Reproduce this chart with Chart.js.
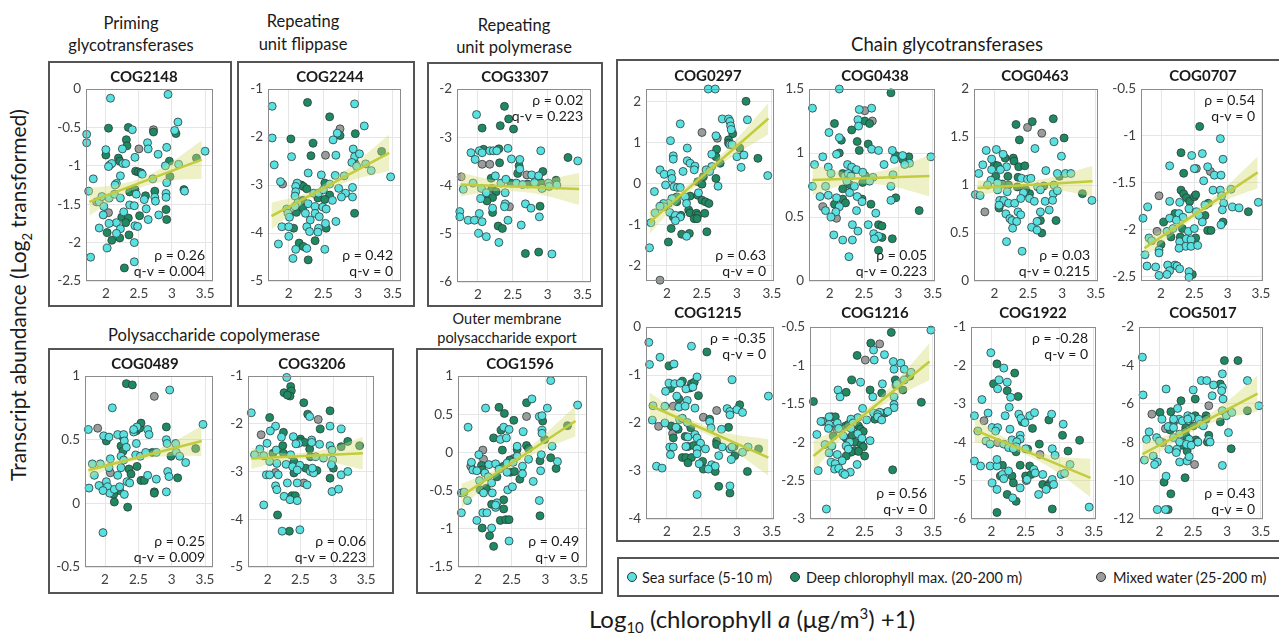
<!DOCTYPE html>
<html>
<head>
<meta charset="utf-8">
<script src="https://cdn.jsdelivr.net/npm/chart.js@4.4.1/dist/chart.umd.min.js"></script>
<style>
body { margin:0; background:#fff; }
#fig { position:relative; width:1279px; height:636px; overflow:hidden; font-family:Lato, 'Noto Sans', 'DejaVu Sans', sans-serif; color:#1a1a1a; }
.box { position:absolute; border:2px solid #555; box-sizing:border-box; }
.lbl { position:absolute; transform:translate(-50%,-50%); white-space:nowrap; font-size:16.5px; }
.cog { position:absolute; transform:translate(-50%,-50%); white-space:nowrap; font-size:15px; font-weight:bold; }
.dot { position:absolute; width:10px; height:10px; border-radius:50%; border:1px solid #333; box-sizing:border-box; transform:translate(-50%,-50%); }
.leg { position:absolute; transform:translateY(-50%); white-space:nowrap; font-size:14.5px; }
canvas { position:absolute; }
</style>
</head>
<body>
<div id="fig">
  <div class="box" style="left:48px;top:61px;width:184px;height:246px"></div>
  <div class="box" style="left:237px;top:61px;width:178px;height:246px"></div>
  <div class="box" style="left:427px;top:62px;width:176px;height:245px"></div>
  <div class="box" style="left:616px;top:59px;width:680px;height:483px"></div>
  <div class="box" style="left:48px;top:348px;width:346px;height:246px"></div>
  <div class="box" style="left:416px;top:348px;width:187px;height:246px"></div>
  <div class="box" style="left:617px;top:557px;width:680px;height:40px"></div>

  <div class="lbl" style="left:131px;top:23px">Priming</div>
  <div class="lbl" style="left:131px;top:45px">glycotransferases</div>
  <div class="lbl" style="left:303px;top:21px">Repeating</div>
  <div class="lbl" style="left:303px;top:44px">unit flippase</div>
  <div class="lbl" style="left:514px;top:25px">Repeating</div>
  <div class="lbl" style="left:514px;top:47px">unit polymerase</div>
  <div class="lbl" style="left:947px;top:44px;font-size:18.5px">Chain glycotransferases</div>
  <div class="lbl" style="left:214px;top:335px">Polysaccharide copolymerase</div>
  <div class="lbl" style="left:507px;top:318px;font-size:14.5px">Outer membrane</div>
  <div class="lbl" style="left:507px;top:337px;font-size:14.5px">polysaccharide export</div>

  <div class="lbl" style="left:20px;top:295px;font-size:21px;transform:translate(-50%,-50%) rotate(-90deg)">Transcript abundance (Log<sub style="font-size:13px">2</sub> transformed)</div>
  <div class="lbl" style="left:752px;top:620px;font-size:24px">Log<sub style="font-size:15px">10</sub> (chlorophyll <i>a</i> (μg/m<sup style="font-size:15px">3</sup>) +1)</div>

  <div class="dot" style="left:632px;top:577px;background:#58e1e0"></div>
  <div class="leg" style="left:642px;top:577px">Sea surface (5-10 m)</div>
  <div class="dot" style="left:795px;top:577px;background:#1f8a62"></div>
  <div class="leg" style="left:806px;top:577px">Deep chlorophyll max. (20-200 m)</div>
  <div class="dot" style="left:1101px;top:577px;background:#9c9c9c"></div>
  <div class="leg" style="left:1113px;top:577px">Mixed water (25-200 m)</div>
</div>

<script>
// shared x positions
var xTicks = [2, 2.5, 3, 3.5];
var fitX = [1.75, 3.45];
var bandX = [1.75, 2.2, 2.5, 2.9, 3.45];

// COG2148
var cog2148Sea = [[1.71,-0.59],[1.71,-0.70],[2.07,-0.12],[2.94,-0.07],[3.09,-0.43],[3.04,-0.54],[2.40,-0.53],[2.0,-0.79],[2.25,-0.78],[2.63,-0.70],[2.64,-0.78],[2.79,-0.85],[2.92,-0.76],[2.44,-0.89],[2.06,-0.99],[2.09,-0.97],[2.04,-1.01],[2.26,-0.97],[2.30,-0.97],[2.90,-1.0],[3.10,-0.98],[3.50,-0.81],[2.55,-1.11],[2.22,-1.13],[2.71,-1.17],[2.92,-1.22],[2.16,-1.23],[2.14,-1.25],[1.81,-1.17],[1.74,-1.33],[1.90,-1.47],[1.94,-1.40],[2.05,-1.42],[1.97,-1.53],[1.96,-1.64],[2.13,-1.37],[2.22,-1.42],[2.36,-1.51],[2.43,-1.52],[2.46,-1.37],[2.58,-1.44],[2.74,-1.41],[2.75,-1.46],[2.91,-1.36],[2.91,-1.41],[3.19,-1.33],[2.61,-1.56],[2.64,-1.70],[2.80,-1.64],[2.27,-1.60],[2.44,-1.78],[2.48,-1.79],[2.16,-1.74],[2.05,-1.75],[1.90,-1.81],[2.22,-1.82],[2.16,-1.88],[2.43,-2.0],[2.02,-2.07],[1.77,-2.19],[2.43,-2.25]];
var cog2148Deep = [[2.34,-0.50],[2.04,-0.51],[3.06,-0.58],[2.72,-0.56],[2.0,-0.86],[2.31,-0.66],[2.32,-0.74],[2.19,-0.90],[2.21,-0.94],[2.96,-0.94],[3.37,-0.90],[2.45,-1.07],[2.49,-1.08],[2.53,-1.09],[2.97,-1.14],[2.36,-1.34],[2.44,-1.31],[2.74,-1.33],[2.60,-1.39],[3.18,-1.31],[2.91,-1.57],[2.92,-1.70],[2.51,-1.65],[2.24,-1.67],[2.34,-1.68],[2.30,-1.74],[2.02,-1.87],[2.09,-1.97],[2.21,-1.94],[2.35,-1.90],[2.28,-2.33]];
var cog2148Mixed = [[2.72,-0.53],[2.50,-0.78],[1.86,-1.47],[2.04,-1.61]];
var cog2148Fit = [-1.47, -0.92];
var cog2148Hi = [-1.29, -1.24, -1.17, -1.00, -0.67];
var cog2148Lo = [-1.65, -1.40, -1.29, -1.20, -1.17];

// COG2244
var cog2244Sea = [[1.76,-1.36],[2.95,-1.31],[2.70,-1.92],[2.64,-2.06],[3.09,-1.77],[1.76,-2.02],[2.04,-2.41],[2.68,-2.38],[2.93,-2.25],[2.95,-2.41],[3.02,-2.35],[2.91,-2.53],[2.98,-2.61],[3.11,-2.56],[3.19,-2.70],[1.79,-2.58],[2.28,-2.75],[2.47,-2.79],[2.67,-2.80],[2.80,-2.81],[2.59,-2.98],[1.88,-2.93],[2.12,-2.96],[2.10,-3.03],[2.10,-3.14],[2.09,-3.23],[2.36,-3.17],[2.43,-3.17],[2.50,-3.10],[2.72,-3.07],[2.92,-3.05],[2.82,-3.17],[2.76,-3.25],[2.92,-3.25],[2.63,-3.32],[2.13,-3.37],[2.28,-3.39],[2.38,-3.45],[2.49,-3.46],[2.54,-3.50],[2.09,-3.45],[2.24,-3.59],[2.38,-3.59],[1.97,-3.50],[1.99,-3.59],[2.01,-3.67],[2.31,-3.73],[2.44,-3.66],[2.68,-3.76],[2.53,-3.80],[1.90,-3.87],[2.0,-3.87],[2.26,-3.87],[2.43,-3.90],[2.30,-3.97],[2.42,-3.98],[2.0,-4.07],[1.85,-4.23],[2.26,-4.32],[2.10,-4.34],[2.06,-4.53],[2.52,-4.34],[3.47,-2.83]];
var cog2244Deep = [[2.27,-1.28],[2.59,-1.58],[2.74,-1.97],[2.96,-1.93],[2.03,-2.04],[2.35,-2.13],[2.32,-2.39],[2.96,-2.56],[3.34,-2.30],[2.52,-2.96],[2.18,-3.0],[2.21,-3.03],[2.26,-3.08],[2.59,-3.21],[2.42,-3.27],[2.52,-3.30],[2.20,-3.32],[2.20,-3.48],[2.11,-3.57],[2.95,-3.59],[2.07,-3.90],[2.54,-3.90],[2.15,-4.21],[2.21,-4.28],[2.38,-4.16],[2.28,-4.56]];
var cog2244Mixed = [[2.74,-1.83],[2.53,-2.38],[1.91,-2.98]];
var cog2244Fit = [-3.65, -2.33];
var cog2244Hi = [-3.37, -3.20, -2.99, -2.61, -1.95];
var cog2244Lo = [-3.93, -3.40, -3.15, -2.91, -2.71];

// COG3307
var cog3307Sea = [[1.98,-2.53],[1.90,-3.32],[2.02,-3.28],[2.06,-3.32],[2.17,-3.28],[2.22,-3.28],[2.27,-3.28],[2.43,-3.23],[1.96,-3.46],[2.48,-3.45],[2.60,-3.46],[2.90,-3.28],[3.43,-3.49],[2.60,-3.66],[2.77,-3.78],[2.87,-3.80],[2.25,-3.80],[1.93,-3.95],[1.79,-4.08],[2.33,-3.95],[2.40,-3.87],[2.55,-3.95],[2.64,-3.98],[2.81,-3.94],[3.01,-3.95],[3.13,-3.99],[3.02,-4.02],[2.92,-4.06],[2.05,-4.06],[2.12,-4.15],[2.39,-4.15],[2.04,-4.27],[2.39,-4.38],[2.38,-4.44],[2.68,-4.38],[2.76,-4.47],[2.21,-4.47],[2.02,-4.58],[1.74,-4.54],[1.74,-4.65],[1.86,-4.72],[1.95,-4.72],[2.06,-4.75],[2.43,-4.72],[2.62,-4.82],[2.88,-4.65],[2.01,-4.99],[2.12,-5.06],[2.30,-5.18],[3.06,-5.42]];
var cog3307Deep = [[2.38,-2.36],[2.44,-2.62],[2.32,-2.76],[2.51,-2.83],[2.06,-2.81],[2.08,-3.25],[2.30,-3.24],[2.31,-3.53],[3.29,-3.42],[2.59,-3.59],[2.57,-3.75],[2.93,-3.71],[2.19,-3.85],[2.47,-3.95],[2.71,-3.97],[2.90,-3.94],[3.12,-3.89],[2.20,-4.06],[2.26,-4.13],[2.12,-4.29],[2.21,-4.25],[2.13,-4.32],[2.89,-4.43],[2.21,-4.56],[2.29,-4.84],[2.35,-4.89],[2.68,-5.41],[2.87,-5.38]];
var cog3307Mixed = [[2.06,-3.56],[2.17,-3.56],[2.70,-3.78],[1.76,-3.82],[2.45,-4.44]];
var cog3307Fit = [-3.98, -4.07];
var cog3307Hi = [-3.73, -3.88, -3.92, -3.89, -3.74];
var cog3307Lo = [-4.23, -4.12, -4.12, -4.19, -4.40];

// COG0489
var cog0489Sea = [[2.97,0.89],[2.11,0.75],[1.75,0.58],[1.98,0.53],[2.06,0.52],[2.19,0.54],[2.28,0.54],[2.43,0.56],[2.48,0.60],[2.43,0.58],[2.64,0.58],[2.66,0.54],[3.47,0.62],[2.29,0.49],[2.32,0.44],[2.47,0.47],[2.92,0.50],[2.93,0.47],[3.06,0.47],[1.81,0.31],[1.93,0.31],[2.08,0.35],[2.24,0.37],[2.28,0.34],[2.46,0.38],[2.53,0.37],[2.61,0.40],[2.77,0.40],[3.07,0.40],[3.12,0.37],[3.21,0.32],[1.84,0.22],[2.06,0.28],[2.19,0.22],[2.24,0.28],[2.64,0.22],[2.77,0.19],[2.94,0.25],[2.96,0.21],[1.76,0.12],[1.91,0.14],[2.02,0.17],[2.04,0.13],[2.07,0.08],[2.14,0.11],[2.22,0.13],[2.33,0.17],[2.37,0.16],[2.29,0.07],[1.97,0.10],[2.92,0.09],[1.97,-0.23]];
var cog0489Deep = [[2.32,0.94],[2.41,0.93],[2.02,0.49],[2.27,0.52],[2.47,0.57],[2.52,0.59],[2.54,0.63],[2.92,0.60],[2.24,0.45],[2.27,0.41],[2.71,0.40],[2.99,0.37],[3.36,0.43],[2.36,0.27],[2.39,0.23],[2.48,0.29],[2.54,0.18],[2.59,0.18],[3.09,0.20],[2.22,0.10],[2.13,0.07],[2.74,0.09],[2.74,0.08],[2.14,0.01],[2.34,-0.03]];
var cog0489Mixed = [[2.74,0.84],[1.89,0.59],[2.08,0.24]];
var cog0489Fit = [0.26, 0.49];
var cog0489Hi = [0.32, 0.345, 0.38, 0.45, 0.61];
var cog0489Lo = [0.20, 0.295, 0.34, 0.37, 0.37];

// COG3206
var cog3206Sea = [[2.29,-1.03],[1.75,-1.77],[2.64,-1.85],[2.12,-2.05],[2.95,-2.05],[3.12,-2.11],[2.04,-2.15],[2.39,-2.27],[2.21,-2.28],[2.47,-2.41],[2.67,-2.34],[2.67,-2.39],[2.79,-2.43],[2.95,-2.46],[1.99,-2.41],[2.43,-2.42],[2.98,-2.55],[1.88,-2.53],[1.80,-2.65],[1.94,-2.67],[2.13,-2.55],[2.35,-2.65],[2.73,-2.69],[2.85,-2.72],[2.99,-2.76],[2.03,-2.79],[2.14,-2.83],[2.28,-2.85],[2.38,-2.90],[2.49,-2.87],[2.97,-2.86],[1.98,-3.07],[2.03,-3.07],[2.16,-3.07],[2.45,-2.97],[2.65,-3.0],[2.70,-3.03],[2.68,-2.93],[3.12,-3.07],[3.22,-3.0],[2.30,-3.24],[2.45,-3.24],[2.60,-3.28],[2.12,-3.30],[2.14,-3.38],[2.98,-3.42],[3.08,-3.37],[2.25,-3.52],[2.34,-3.59],[2.45,-3.61],[1.94,-3.70],[2.22,-4.25],[2.49,-4.22]];
var cog3206Deep = [[2.35,-1.22],[2.36,-1.31],[2.34,-1.42],[2.25,-1.35],[2.30,-1.40],[2.55,-1.56],[2.95,-1.73],[2.61,-1.80],[2.03,-1.87],[2.80,-2.11],[2.24,-2.18],[2.50,-2.32],[2.50,-2.37],[2.56,-2.39],[2.23,-2.46],[2.64,-2.53],[2.08,-2.62],[2.24,-2.62],[2.65,-2.69],[3.12,-2.48],[3.22,-2.37],[3.40,-2.46],[2.40,-2.79],[2.58,-2.93],[3.0,-2.93],[2.40,-3.03],[2.75,-2.98],[2.95,-3.14],[2.37,-3.51],[2.42,-3.51],[2.15,-3.91],[2.33,-4.25]];
var cog3206Mixed = [[2.77,-1.91],[1.90,-2.23],[2.12,-3.02],[2.55,-3.24]];
var cog3206Fit = [-2.73, -2.62];
var cog3206Hi = [-2.51, -2.61, -2.61, -2.53, -2.28];
var cog3206Lo = [-2.95, -2.79, -2.75, -2.79, -2.96];

// COG1596
var cog1596Sea = [[3.08,0.94],[2.80,0.70],[2.11,0.58],[3.03,0.58],[3.48,0.62],[2.91,0.47],[2.95,0.48],[1.85,0.33],[2.38,0.33],[2.46,0.30],[2.33,0.17],[2.42,0.19],[2.67,0.27],[2.95,0.29],[2.95,0.25],[3.10,0.08],[2.58,0.08],[2.01,-0.03],[2.58,-0.05],[2.75,-0.09],[2.94,-0.03],[3.18,-0.12],[1.90,-0.13],[1.92,-0.23],[1.98,-0.24],[2.16,-0.16],[2.26,-0.15],[2.31,-0.22],[2.43,-0.14],[2.52,-0.13],[2.43,-0.26],[2.66,-0.18],[2.10,-0.27],[2.15,-0.32],[2.66,-0.28],[2.82,-0.38],[2.93,-0.24],[2.02,-0.37],[2.20,-0.40],[2.08,-0.53],[2.21,-0.53],[2.44,-0.49],[2.51,-0.45],[1.75,-0.53],[1.79,-0.52],[1.84,-0.63],[2.28,-0.66],[2.26,-0.72],[2.26,-0.69],[2.91,-0.63],[1.75,-0.79],[2.07,-0.79],[2.13,-0.79],[1.98,-0.89],[2.20,-0.99],[2.46,-1.16]];
var cog1596Deep = [[2.72,0.65],[2.31,0.59],[2.39,0.51],[2.96,0.41],[2.53,0.42],[2.34,0.29],[2.23,0.19],[2.99,0.17],[3.33,0.35],[2.58,0.04],[2.72,0.09],[2.75,0.05],[2.36,0.03],[3.08,-0.07],[2.92,-0.11],[2.05,-0.17],[2.06,-0.23],[2.38,-0.18],[2.47,-0.10],[2.48,-0.26],[2.54,-0.25],[3.16,-0.21],[2.28,-0.32],[2.62,-0.35],[2.12,-0.47],[2.03,-0.49],[2.20,-0.68],[2.38,-0.62],[2.38,-0.74],[2.33,-0.89],[2.41,-0.88],[2.92,-0.83],[2.06,-0.99],[2.17,-1.09],[2.46,-0.88],[2.23,-1.23]];
var cog1596Mixed = [[2.72,0.47],[2.07,0.03],[2.08,-0.09],[2.53,-0.08],[1.89,-0.18]];
var cog1596Fit = [-0.57, 0.41];
var cog1596Hi = [-0.41, -0.25, -0.09, 0.17, 0.61];
var cog1596Lo = [-0.73, -0.37, -0.19, 0.01, 0.21];

// COG0297
var cog0297Sea = [[2.59,2.30],[2.69,2.30],[2.19,1.45],[2.79,1.57],[2.88,1.57],[2.90,1.51],[2.91,1.40],[2.92,1.31],[3.15,1.55],[2.70,1.16],[2.90,0.94],[2.05,1.04],[2.29,0.86],[2.09,0.67],[2.09,0.59],[2.64,0.71],[2.29,0.55],[2.33,0.49],[2.40,0.42],[2.23,0.29],[2.39,0.33],[1.90,0.33],[1.96,0.22],[2.06,0.24],[2.07,0.12],[2.64,0.41],[2.56,0.33],[2.61,0.29],[2.93,0.94],[3.0,0.65],[3.10,0.69],[3.06,0.39],[3.44,0.19],[2.45,-0.23],[1.82,-0.20],[1.98,-0.04],[2.10,-0.08],[2.15,-0.10],[2.19,-0.10],[2.73,-0.07],[2.26,-0.33],[2.07,-0.37],[2.02,-0.49],[1.95,-0.49],[1.96,-0.57],[2.28,-0.49],[1.90,-0.56],[1.83,-0.72],[1.77,-0.96],[2.04,-0.71],[2.12,-0.78],[2.19,-0.82],[2.12,-0.91],[2.28,-1.29],[1.75,-1.57]];
var cog0297Deep = [[3.13,2.0],[2.94,1.21],[2.88,1.06],[3.04,0.86],[2.88,0.98],[2.71,0.83],[2.70,0.65],[2.76,0.49],[2.52,0.16],[3.30,0.61],[2.70,0.12],[2.44,0.04],[2.50,-0.02],[2.14,-0.33],[2.33,-0.31],[2.14,-0.45],[2.44,-0.29],[2.50,-0.41],[2.55,-0.45],[2.60,-0.49],[2.31,-0.65],[2.33,-0.72],[2.42,-0.73],[2.44,-0.78],[2.39,-0.86],[2.20,-0.78],[2.09,-0.82],[2.54,-0.73],[2.43,-0.86],[2.06,-1.10],[2.21,-1.24],[2.32,-1.22],[2.57,-1.18],[2.02,-1.43]];
var cog0297Mixed = [[2.50,1.24],[2.72,1.10],[1.90,-2.36]];
var cog0297Fit = [-0.95, 1.58];
var cog0297Hi = [-0.67, -0.16, 0.26, 0.91, 1.96];
var cog0297Lo = [-1.23, -0.40, 0.06, 0.61, 1.20];

// COG0438
var cog0438Sea = [[2.14,1.50],[1.75,1.35],[2.43,1.34],[2.61,1.35],[2.41,1.26],[2.42,1.21],[1.99,1.16],[2.14,1.12],[2.61,1.03],[2.71,1.02],[2.91,1.02],[2.10,0.99],[1.90,0.97],[3.06,0.98],[2.94,0.95],[3.47,0.97],[3.16,0.92],[3.09,0.91],[2.79,0.91],[1.78,0.91],[1.98,0.89],[2.26,0.91],[2.32,0.89],[2.39,0.87],[2.48,0.85],[2.92,0.83],[2.02,0.84],[2.22,0.82],[2.27,0.84],[2.31,0.82],[2.63,0.81],[1.75,0.74],[1.94,0.74],[2.25,0.78],[2.36,0.74],[2.58,0.78],[2.89,0.74],[2.29,0.69],[1.86,0.66],[1.98,0.67],[2.10,0.65],[2.40,0.66],[2.47,0.62],[2.89,0.63],[2.14,0.58],[2.09,0.54],[1.94,0.55],[2.39,0.55],[2.02,0.50],[2.67,0.53],[2.33,0.44],[2.56,0.44],[2.41,0.39],[2.06,0.36],[2.64,0.37],[2.71,0.35],[2.65,0.33],[2.19,0.32],[2.33,0.32],[2.28,0.19]];
var cog0438Deep = [[2.89,1.47],[2.51,1.25],[2.58,1.23],[2.07,1.23],[2.32,1.18],[2.17,1.10],[2.40,1.09],[2.56,1.07],[2.43,1.02],[2.14,1.0],[2.96,0.98],[3.15,0.97],[3.06,0.95],[2.35,0.87],[2.19,0.84],[2.52,0.82],[2.30,0.75],[2.48,0.77],[2.19,0.72],[2.19,0.64],[2.47,0.64],[2.23,0.61],[2.60,0.60],[2.96,0.65],[2.07,0.60],[3.30,0.55],[2.71,0.44],[2.76,0.43],[2.76,0.34],[2.91,0.33],[2.71,0.24]];
var cog0438Mixed = [[2.51,1.33],[2.62,1.25],[1.90,0.58],[2.10,0.49]];
var cog0438Fit = [0.79, 0.82];
var cog0438Hi = [0.91, 0.85, 0.84, 0.88, 0.98];
var cog0438Lo = [0.67, 0.75, 0.76, 0.74, 0.66];

// COG0463
var cog0463Sea = [[2.88,1.45],[2.60,1.38],[2.99,1.30],[1.88,1.36],[2.03,1.37],[2.13,1.32],[1.96,1.27],[1.83,1.21],[2.18,1.19],[2.09,1.16],[1.96,1.16],[2.76,1.15],[1.77,1.12],[2.40,1.07],[2.49,1.06],[2.54,1.07],[2.93,1.12],[3.05,1.12],[3.13,1.12],[1.95,1.05],[2.05,1.02],[2.64,0.98],[2.88,1.0],[1.90,1.0],[2.05,0.95],[2.19,0.93],[2.43,0.92],[2.68,0.95],[1.72,0.90],[1.79,0.89],[2.87,0.91],[2.93,0.94],[2.08,0.84],[2.14,0.84],[2.07,0.79],[2.21,0.81],[2.30,0.81],[2.39,0.86],[2.52,0.86],[2.59,0.83],[2.75,0.83],[2.86,0.84],[3.44,0.84],[2.17,0.70],[2.35,0.72],[2.39,0.69],[2.23,0.65],[2.26,0.63],[2.33,0.62],[2.27,0.55],[2.68,0.72],[2.81,0.74],[2.55,0.56],[2.63,0.62],[2.63,0.53],[2.18,0.41],[2.41,0.31]];
var cog0463Deep = [[2.32,1.63],[2.56,1.66],[2.87,1.69],[2.37,1.47],[3.03,1.49],[2.0,1.21],[2.05,1.20],[2.16,1.28],[2.28,1.28],[2.29,1.25],[2.36,1.19],[2.45,1.20],[2.02,1.09],[2.20,1.09],[2.35,1.08],[2.96,1.09],[2.12,1.01],[2.21,1.0],[2.34,0.98],[2.73,0.99],[2.49,0.91],[2.52,0.91],[2.46,0.95],[3.30,0.91],[2.07,0.76],[2.68,0.63],[2.91,0.63],[2.70,0.50]];
var cog0463Mixed = [[2.49,1.60],[2.70,1.54],[2.10,0.81],[1.86,0.72]];
var cog0463Fit = [0.97, 1.04];
var cog0463Hi = [1.05, 1.04, 1.04, 1.09, 1.20];
var cog0463Lo = [0.89, 0.94, 0.96, 0.95, 0.88];

// COG0707
var cog0707Sea = [[2.89,-1.03],[2.13,-1.32],[2.46,-1.21],[2.62,-1.19],[2.50,-1.35],[2.70,-1.33],[2.80,-1.42],[2.90,-1.42],[2.93,-1.25],[2.64,-1.48],[2.78,-1.58],[2.89,-1.58],[3.05,-1.57],[2.13,-1.70],[2.28,-1.71],[2.42,-1.78],[2.53,-1.81],[2.66,-1.74],[2.94,-1.72],[2.92,-1.79],[2.91,-1.64],[3.07,-1.76],[3.17,-1.77],[3.46,-1.71],[2.90,-1.95],[1.73,-1.88],[1.80,-1.76],[2.13,-1.88],[2.27,-1.83],[2.33,-1.87],[2.23,-1.90],[2.57,-1.85],[2.62,-1.92],[2.41,-2.02],[2.50,-1.99],[1.82,-2.09],[1.86,-2.12],[2.09,-2.02],[2.18,-1.99],[1.97,-2.22],[2.28,-2.13],[2.38,-2.10],[2.45,-2.11],[2.37,-2.18],[2.45,-2.18],[2.27,-2.20],[2.55,-2.17],[1.76,-2.27],[1.97,-2.25],[1.79,-2.39],[1.92,-2.40],[2.10,-2.38],[2.21,-2.38],[2.24,-2.39],[2.28,-2.42],[2.13,-2.44],[1.97,-2.49],[2.09,-2.48],[2.42,-2.45],[2.42,-2.51]];
var cog0707Deep = [[2.58,-0.90],[2.30,-1.18],[2.34,-1.40],[2.30,-1.58],[2.34,-1.62],[2.38,-1.66],[2.43,-1.70],[2.50,-1.65],[2.52,-1.63],[2.71,-1.72],[3.31,-1.81],[2.93,-1.92],[2.04,-1.92],[2.21,-1.83],[2.66,-1.85],[2.70,-2.01],[2.75,-2.01],[2.32,-1.99],[2.15,-2.08],[2.0,-2.16],[2.29,-2.08],[2.52,-2.09],[2.47,-2.48]];
var cog0707Mixed = [[2.53,-1.35],[2.74,-1.38],[1.97,-1.64],[1.94,-2.02]];
var cog0707Fit = [-2.20, -1.39];
var cog0707Hi = [-2.10, -1.94, -1.80, -1.59, -1.22];
var cog0707Lo = [-2.30, -2.04, -1.88, -1.71, -1.56];

// COG1215
var cog1215Sea = [[1.74,-0.32],[1.75,-0.78],[1.90,-0.63],[2.35,-0.40],[2.10,-0.77],[2.43,-1.04],[2.93,-1.10],[2.03,-1.17],[2.11,-1.18],[2.19,-1.17],[2.27,-1.29],[2.37,-1.25],[1.98,-1.34],[2.14,-1.44],[3.45,-1.44],[2.29,-1.53],[1.97,-1.65],[2.17,-1.67],[2.26,-1.65],[2.40,-1.69],[2.86,-1.70],[2.90,-1.76],[3.0,-1.72],[3.08,-1.78],[2.90,-1.83],[1.80,-1.64],[1.79,-1.94],[1.97,-2.0],[2.18,-1.93],[2.22,-1.90],[2.29,-1.99],[2.61,-1.97],[2.13,-2.09],[2.63,-2.10],[2.78,-2.13],[2.30,-2.29],[2.40,-2.24],[2.43,-2.31],[2.48,-2.42],[2.04,-2.50],[2.09,-2.50],[2.27,-2.49],[2.43,-2.54],[2.55,-2.54],[2.79,-2.50],[2.90,-2.54],[2.93,-2.50],[3.16,-2.50],[3.08,-2.61],[2.05,-2.66],[2.43,-2.64],[2.74,-2.68],[2.92,-2.76],[2.46,-2.85],[2.64,-2.87],[2.69,-2.90],[1.85,-2.90],[1.93,-2.94],[2.59,-2.96],[2.90,-3.31],[2.43,-3.49]];
var cog1215Deep = [[2.57,-0.52],[2.03,-0.81],[2.08,-1.20],[2.05,-1.28],[2.22,-1.13],[2.35,-1.18],[2.39,-1.15],[2.33,-1.27],[2.45,-1.43],[2.17,-1.50],[3.04,-1.62],[2.06,-2.06],[2.61,-1.92],[2.16,-2.13],[2.34,-2.10],[2.88,-2.09],[2.09,-2.31],[2.26,-2.28],[2.71,-2.38],[2.71,-2.45],[2.30,-2.49],[2.38,-2.47],[2.96,-2.49],[3.31,-2.54],[2.97,-2.68],[2.22,-2.72],[2.27,-2.72],[2.35,-2.72],[2.30,-2.83],[2.51,-2.80],[2.52,-2.96],[2.69,-3.01],[3.15,-3.01],[2.74,-3.32],[2.90,-3.46]];
var cog1215Mixed = [[2.09,-1.65],[2.71,-1.74],[1.88,-2.07],[2.52,-1.88],[2.08,-2.22]];
var cog1215Fit = [-1.63, -2.72];
var cog1215Hi = [-1.36, -1.82, -2.03, -2.22, -2.34];
var cog1215Lo = [-1.90, -2.02, -2.19, -2.52, -3.10];

// COG1216
var cog1216Sea = [[3.47,-0.54],[2.63,-0.80],[2.79,-0.86],[2.64,-0.93],[2.92,-0.95],[3.03,-0.97],[2.93,-1.05],[3.08,-1.05],[3.18,-1.09],[2.44,-1.22],[2.97,-1.24],[2.76,-1.24],[3.08,-1.19],[2.11,-1.32],[2.14,-1.41],[2.62,-1.41],[2.93,-1.41],[2.93,-1.51],[2.93,-1.55],[2.47,-1.56],[2.63,-1.62],[2.72,-1.61],[2.84,-1.60],[2.69,-1.64],[2.69,-1.67],[2.75,-1.71],[2.53,-1.71],[2.40,-1.68],[2.30,-1.70],[2.33,-1.75],[1.98,-1.67],[1.86,-1.73],[1.98,-1.77],[2.10,-1.75],[2.30,-1.82],[2.12,-1.82],[2.40,-1.89],[1.80,-1.90],[1.97,-1.82],[2.19,-1.92],[2.46,-1.95],[2.58,-1.98],[2.28,-2.0],[1.92,-2.03],[2.02,-2.05],[2.23,-2.05],[2.26,-2.09],[1.98,-2.14],[2.10,-2.16],[2.17,-2.24],[2.01,-2.26],[2.07,-2.28],[2.39,-2.29],[2.06,-2.35],[2.12,-2.34],[1.82,-2.37],[2.18,-2.40],[2.29,-2.39],[2.21,-2.42],[1.94,-2.87]];
var cog1216Deep = [[2.89,-0.57],[2.59,-0.71],[2.39,-0.87],[3.16,-1.14],[2.95,-1.19],[2.31,-1.19],[2.96,-1.26],[3.06,-1.32],[2.23,-1.35],[2.58,-1.32],[2.75,-1.36],[3.33,-1.48],[1.75,-1.47],[2.80,-1.62],[2.65,-1.70],[2.02,-1.67],[2.07,-1.67],[2.22,-1.79],[2.26,-1.77],[2.41,-1.79],[2.44,-1.83],[2.48,-1.86],[2.04,-1.92],[2.23,-1.95],[2.32,-1.91],[2.36,-2.0],[2.45,-2.03],[2.48,-2.06],[2.35,-2.11],[2.41,-2.12],[2.30,-2.13],[2.23,-2.18],[2.50,-2.18],[2.91,-2.36]];
var cog1216Mixed = [[2.72,-0.72],[2.51,-0.93],[1.89,-1.73],[2.09,-1.83]];
var cog1216Fit = [-2.18, -0.95];
var cog1216Hi = [-1.98, -1.78, -1.59, -1.26, -0.71];
var cog1216Lo = [-2.38, -1.92, -1.69, -1.44, -1.19];

// COG1922
var cog1922Sea = [[1.99,-1.67],[2.18,-2.07],[2.11,-2.38],[2.09,-2.61],[2.23,-2.44],[2.28,-2.83],[1.86,-2.89],[2.26,-3.09],[1.95,-3.24],[2.20,-3.31],[2.40,-3.27],[2.43,-3.38],[2.49,-3.49],[2.56,-3.31],[2.63,-3.23],[2.88,-3.27],[3.05,-3.53],[1.75,-3.31],[1.80,-3.71],[2.01,-3.62],[2.09,-3.62],[2.06,-3.71],[2.27,-3.66],[2.42,-3.82],[2.42,-3.92],[2.30,-3.94],[2.37,-3.99],[1.92,-3.97],[1.98,-4.05],[2.18,-4.05],[2.36,-4.12],[2.25,-4.14],[2.32,-4.17],[2.50,-4.17],[2.89,-4.17],[2.93,-4.34],[1.75,-4.49],[1.84,-4.62],[1.98,-4.62],[2.08,-4.62],[2.08,-4.45],[2.62,-4.71],[2.64,-4.80],[3.15,-4.58],[2.16,-4.84],[2.25,-4.75],[2.18,-4.95],[2.52,-4.97],[2.75,-4.84],[2.89,-4.97],[2.91,-5.10],[3.02,-4.84],[3.07,-4.81],[2.80,-5.23],[2.69,-5.36],[2.42,-5.19],[2.01,-5.06],[2.08,-5.23],[2.31,-5.45],[3.43,-5.69]];
var cog1922Deep = [[2.08,-1.96],[2.34,-2.20],[2.03,-2.48],[2.23,-2.66],[2.39,-2.81],[2.45,-3.47],[2.84,-3.42],[2.60,-3.64],[3.04,-3.82],[3.29,-3.95],[2.36,-4.25],[2.53,-4.18],[2.70,-4.05],[3.12,-4.23],[2.16,-4.60],[2.42,-4.60],[2.56,-4.62],[2.13,-4.88],[2.30,-4.88],[2.50,-4.88],[2.58,-4.84],[2.86,-5.06],[2.75,-5.10],[2.83,-5.14],[2.32,-5.06],[2.23,-5.36],[2.36,-5.54],[2.08,-5.83],[2.89,-5.74]];
var cog1922Mixed = [[1.89,-3.44],[2.09,-4.01],[2.71,-4.32],[2.51,-5.0]];
var cog1922Fit = [-3.68, -4.93];
var cog1922Hi = [-3.36, -3.89, -4.13, -4.35, -4.43];
var cog1922Lo = [-4.00, -4.13, -4.33, -4.71, -5.43];

// COG5017
var cog5017Sea = [[1.75,-3.57],[1.76,-5.54],[3.30,-4.79],[2.93,-4.44],[2.62,-4.79],[2.70,-4.79],[2.93,-5.14],[2.92,-5.32],[2.80,-5.02],[2.50,-5.28],[2.10,-5.23],[2.78,-5.58],[2.94,-5.75],[2.27,-6.24],[3.47,-6.10],[2.93,-6.36],[2.99,-6.62],[3.07,-6.45],[2.42,-6.62],[2.29,-6.80],[2.47,-6.71],[2.34,-6.89],[2.42,-6.80],[2.21,-6.80],[2.58,-6.80],[2.61,-7.06],[2.04,-6.80],[2.13,-7.18],[2.21,-7.24],[2.65,-7.15],[2.30,-7.58],[1.85,-7.46],[2.73,-7.85],[3.02,-7.50],[1.96,-7.76],[2.21,-7.76],[2.30,-7.99],[2.44,-7.85],[2.57,-7.99],[2.40,-8.11],[2.47,-8.16],[2.75,-7.99],[1.81,-7.85],[2.0,-7.94],[2.14,-8.37],[2.26,-8.37],[2.25,-8.54],[1.91,-8.72],[1.78,-8.93],[1.97,-9.03],[1.93,-9.16],[2.30,-9.03],[2.41,-8.98],[2.44,-8.75],[2.93,-9.21],[2.10,-9.77],[1.97,-11.51],[2.09,-11.51]];
var cog5017Deep = [[3.16,-3.75],[2.96,-3.75],[2.90,-4.97],[2.53,-5.75],[2.32,-5.84],[3.30,-6.36],[2.99,-6.54],[2.01,-6.45],[2.17,-6.41],[2.53,-6.62],[2.69,-6.62],[2.21,-6.97],[2.69,-6.80],[2.90,-6.94],[2.16,-7.36],[2.39,-7.24],[2.50,-7.15],[2.38,-7.46],[2.40,-7.71],[2.73,-7.64],[2.54,-7.88],[2.34,-8.16],[2.71,-7.99],[2.41,-8.46],[2.56,-7.99],[3.06,-8.34],[2.38,-9.85],[2.07,-10.08],[2.17,-10.69],[2.13,-11.51]];
var cog5017Mixed = [[2.73,-6.10],[1.89,-6.54],[2.09,-7.29],[2.05,-8.02],[2.52,-9.16]];
var cog5017Fit = [-8.62, -5.47];
var cog5017Hi = [-8.02, -7.54, -7.03, -6.14, -4.52];
var cog5017Lo = [-9.22, -8.04, -7.43, -6.84, -6.42];

// panel layout: plot rectangle [left, top, right, bottom] in page pixels
var panels = [
  { name:'COG2148', sea:cog2148Sea, deep:cog2148Deep, mixed:cog2148Mixed, fit:cog2148Fit, hi:cog2148Hi, lo:cog2148Lo,
    yMin:-2.5, yMax:0, yTicks:[-2.5,-2,-1.5,-1,-0.5,0], rho:'0.26', qv:'0.004', top:false, rect:[86,89,213,281], xMax:3.62, tx:144, ty:76 },
  { name:'COG2244', sea:cog2244Sea, deep:cog2244Deep, mixed:cog2244Mixed, fit:cog2244Fit, hi:cog2244Hi, lo:cog2244Lo,
    yMin:-5, yMax:-1, yTicks:[-5,-4,-3,-2,-1], rho:'0.42', qv:'0', top:false, rect:[268,89,401,281], xMax:3.62, tx:330, ty:76 },
  { name:'COG3307', sea:cog3307Sea, deep:cog3307Deep, mixed:cog3307Mixed, fit:cog3307Fit, hi:cog3307Hi, lo:cog3307Lo,
    yMin:-6, yMax:-2, yTicks:[-6,-5,-4,-3,-2], rho:'0.02', qv:'0.223', top:true, rect:[457,89,591,282], xMax:3.62, tx:515, ty:76 },
  { name:'COG0489', sea:cog0489Sea, deep:cog0489Deep, mixed:cog0489Mixed, fit:cog0489Fit, hi:cog0489Hi, lo:cog0489Lo,
    yMin:-0.5, yMax:1, yTicks:[-0.5,0,0.5,1], rho:'0.25', qv:'0.009', top:false, rect:[85,376,213,567], xMax:3.62, tx:145, ty:363 },
  { name:'COG3206', sea:cog3206Sea, deep:cog3206Deep, mixed:cog3206Mixed, fit:cog3206Fit, hi:cog3206Hi, lo:cog3206Lo,
    yMin:-5, yMax:-1, yTicks:[-5,-4,-3,-2,-1], rho:'0.06', qv:'0.223', top:false, rect:[248,376,374,567], xMax:3.62, tx:312, ty:363 },
  { name:'COG1596', sea:cog1596Sea, deep:cog1596Deep, mixed:cog1596Mixed, fit:cog1596Fit, hi:cog1596Hi, lo:cog1596Lo,
    yMin:-1.5, yMax:1, yTicks:[-1.5,-1,-0.5,0,0.5,1], rho:'0.49', qv:'0', top:false, rect:[458,376,587,567], xMax:3.62, tx:520, ty:363 },
  { name:'COG0297', sea:cog0297Sea, deep:cog0297Deep, mixed:cog0297Mixed, fit:cog0297Fit, hi:cog0297Hi, lo:cog0297Lo,
    yMin:-2.38, yMax:2.3, yTicks:[-2,-1,0,1,2], rho:'0.63', qv:'0', top:false, rect:[646,89,774,281], xMax:3.53, tx:708, ty:75 },
  { name:'COG0438', sea:cog0438Sea, deep:cog0438Deep, mixed:cog0438Mixed, fit:cog0438Fit, hi:cog0438Hi, lo:cog0438Lo,
    yMin:0, yMax:1.5, yTicks:[0,0.5,1,1.5], rho:'0.05', qv:'0.223', top:false, rect:[809,89,935,281], xMax:3.53, tx:875, ty:75 },
  { name:'COG0463', sea:cog0463Sea, deep:cog0463Deep, mixed:cog0463Mixed, fit:cog0463Fit, hi:cog0463Hi, lo:cog0463Lo,
    yMin:0, yMax:2, yTicks:[0,0.5,1,1.5,2], rho:'0.03', qv:'0.215', top:false, rect:[974,89,1098,281], xMax:3.53, tx:1035, ty:75 },
  { name:'COG0707', sea:cog0707Sea, deep:cog0707Deep, mixed:cog0707Mixed, fit:cog0707Fit, hi:cog0707Hi, lo:cog0707Lo,
    yMin:-2.55, yMax:-0.5, yTicks:[-2.5,-2,-1.5,-1,-0.5], rho:'0.54', qv:'0', top:true, rect:[1141,89,1263,281], xMax:3.53, tx:1203, ty:75 },
  { name:'COG1215', sea:cog1215Sea, deep:cog1215Deep, mixed:cog1215Mixed, fit:cog1215Fit, hi:cog1215Hi, lo:cog1215Lo,
    yMin:-4, yMax:0, yTicks:[-4,-3,-2,-1,0], rho:'-0.35', qv:'0', top:true, rect:[646,327,774,519], xMax:3.53, tx:708, ty:312 },
  { name:'COG1216', sea:cog1216Sea, deep:cog1216Deep, mixed:cog1216Mixed, fit:cog1216Fit, hi:cog1216Hi, lo:cog1216Lo,
    yMin:-3, yMax:-0.5, yTicks:[-3,-2.5,-2,-1.5,-1,-0.5], rho:'0.56', qv:'0', top:false, rect:[810,327,935,519], xMax:3.53, tx:875, ty:312 },
  { name:'COG1922', sea:cog1922Sea, deep:cog1922Deep, mixed:cog1922Mixed, fit:cog1922Fit, hi:cog1922Hi, lo:cog1922Lo,
    yMin:-6, yMax:-1, yTicks:[-6,-5,-4,-3,-2,-1], rho:'-0.28', qv:'0', top:true, rect:[971,327,1096,519], xMax:3.53, tx:1033, ty:312 },
  { name:'COG5017', sea:cog5017Sea, deep:cog5017Deep, mixed:cog5017Mixed, fit:cog5017Fit, hi:cog5017Hi, lo:cog5017Lo,
    yMin:-12, yMax:-2, yTicks:[-12,-10,-8,-6,-4,-2], rho:'0.43', qv:'0', top:false, rect:[1139,327,1263,519], xMax:3.53, tx:1203, ty:312 }
];

var FONT = "Lato, 'Noto Sans', 'DejaVu Sans', sans-serif";
var SEA = '#58e1e0', DEEP = '#1f8a62', MIX = '#9c9c9c', EDGE = '#2e3b3b';
var BAND = 'rgba(214,222,120,0.42)', LINE = '#c3cc3c';
var GRID = '#e6e6e6', TICK = '#404040';

// axes box and the rho / q-v text
var framePlugin = {
  id: 'frame',
  afterDatasetsDraw: function (chart, args, opts) {
    var a = chart.chartArea, ctx = chart.ctx;
    ctx.save();
    ctx.strokeStyle = '#8c8c8c';
    ctx.lineWidth = 1;
    ctx.strokeRect(Math.round(a.left) + 0.5, Math.round(a.top) + 0.5,
                   Math.round(a.right - a.left) - 1, Math.round(a.bottom - a.top) - 1);
    ctx.fillStyle = '#1a1a1a';
    ctx.font = '14px ' + FONT;
    ctx.textAlign = 'right';
    ctx.textBaseline = 'middle';
    var x = a.right - 8;
    var y1 = opts.top ? a.top + 11 : a.bottom - 26;
    ctx.fillText('\u03c1 = ' + opts.rho, x, y1);
    ctx.fillText('q-v = ' + opts.qv, x, y1 + 16);
    ctx.restore();
  }
};

function toPts(arr) {
  return arr.map(function (d) { return { x: d[0], y: d[1] }; });
}

function scatterSet(arr, color) {
  return {
    data: toPts(arr),
    backgroundColor: color,
    borderColor: EDGE,
    borderWidth: 0.8,
    pointRadius: 4,
    clip: false,
    order: 1
  };
}

function makePanel(p) {
  var fig = document.getElementById('fig');
  var L = p.rect[0], T = p.rect[1], R = p.rect[2], B = p.rect[3];
  var yW = 40, padT = 8, padR = 10, xH = 24;
  var w = R - L + yW + padR, h = B - T + padT + xH;
  var c = document.createElement('canvas');
  c.width = w; c.height = h;
  c.style.left = (L - yW) + 'px';
  c.style.top = (T - padT) + 'px';
  fig.appendChild(c);

  var t = document.createElement('div');
  t.className = 'cog';
  t.textContent = p.name;
  t.style.left = p.tx + 'px';
  t.style.top = p.ty + 'px';
  fig.appendChild(t);

  new Chart(c, {
    type: 'scatter',
    data: {
      datasets: [
        { type: 'line', data: fitX.map(function (x, i) { return { x: x, y: p.fit[i] }; }),
          borderColor: LINE, borderWidth: 2.5, pointRadius: 0, fill: false, order: 0 },
        { type: 'line', data: bandX.map(function (x, i) { return { x: x, y: p.hi[i] }; }),
          borderWidth: 0, pointRadius: 0, tension: 0.4, fill: '+1', backgroundColor: BAND, order: 0 },
        { type: 'line', data: bandX.map(function (x, i) { return { x: x, y: p.lo[i] }; }),
          borderWidth: 0, pointRadius: 0, tension: 0.4, fill: false, order: 0 },
        scatterSet(p.sea, SEA),
        scatterSet(p.deep, DEEP),
        scatterSet(p.mixed, MIX)
      ]
    },
    options: {
      responsive: false,
      animation: false,
      devicePixelRatio: 1,
      events: [],
      layout: { padding: { top: padT, right: padR, left: 0, bottom: 0 }, autoPadding: false },
      plugins: {
        legend: { display: false },
        tooltip: { enabled: false },
        frame: { rho: p.rho, qv: p.qv, top: p.top }
      },
      scales: {
        x: {
          type: 'linear', min: 1.7, max: p.xMax,
          afterBuildTicks: function (s) { s.ticks = xTicks.map(function (v) { return { value: v }; }); },
          afterFit: function (s) { s.height = xH; s.paddingLeft = 0; s.paddingRight = 0; },
          grid: { color: GRID, drawTicks: false },
          border: { display: false },
          ticks: { color: TICK, font: { family: FONT, size: 13.5 }, padding: 5, maxRotation: 0, autoSkip: false,
                   callback: function (v) { return String(v); } }
        },
        y: {
          min: p.yMin, max: p.yMax,
          afterBuildTicks: function (s) { s.ticks = p.yTicks.map(function (v) { return { value: v }; }); },
          afterFit: function (s) { s.width = yW; s.paddingTop = 0; s.paddingBottom = 0; },
          grid: { color: GRID, drawTicks: false },
          border: { display: false },
          ticks: { color: TICK, font: { family: FONT, size: 13.5 }, padding: 5, autoSkip: false,
                   callback: function (v) { return String(v); } }
        }
      }
    },
    plugins: [framePlugin]
  });
}

panels.forEach(makePanel);
</script>
</body>
</html>
